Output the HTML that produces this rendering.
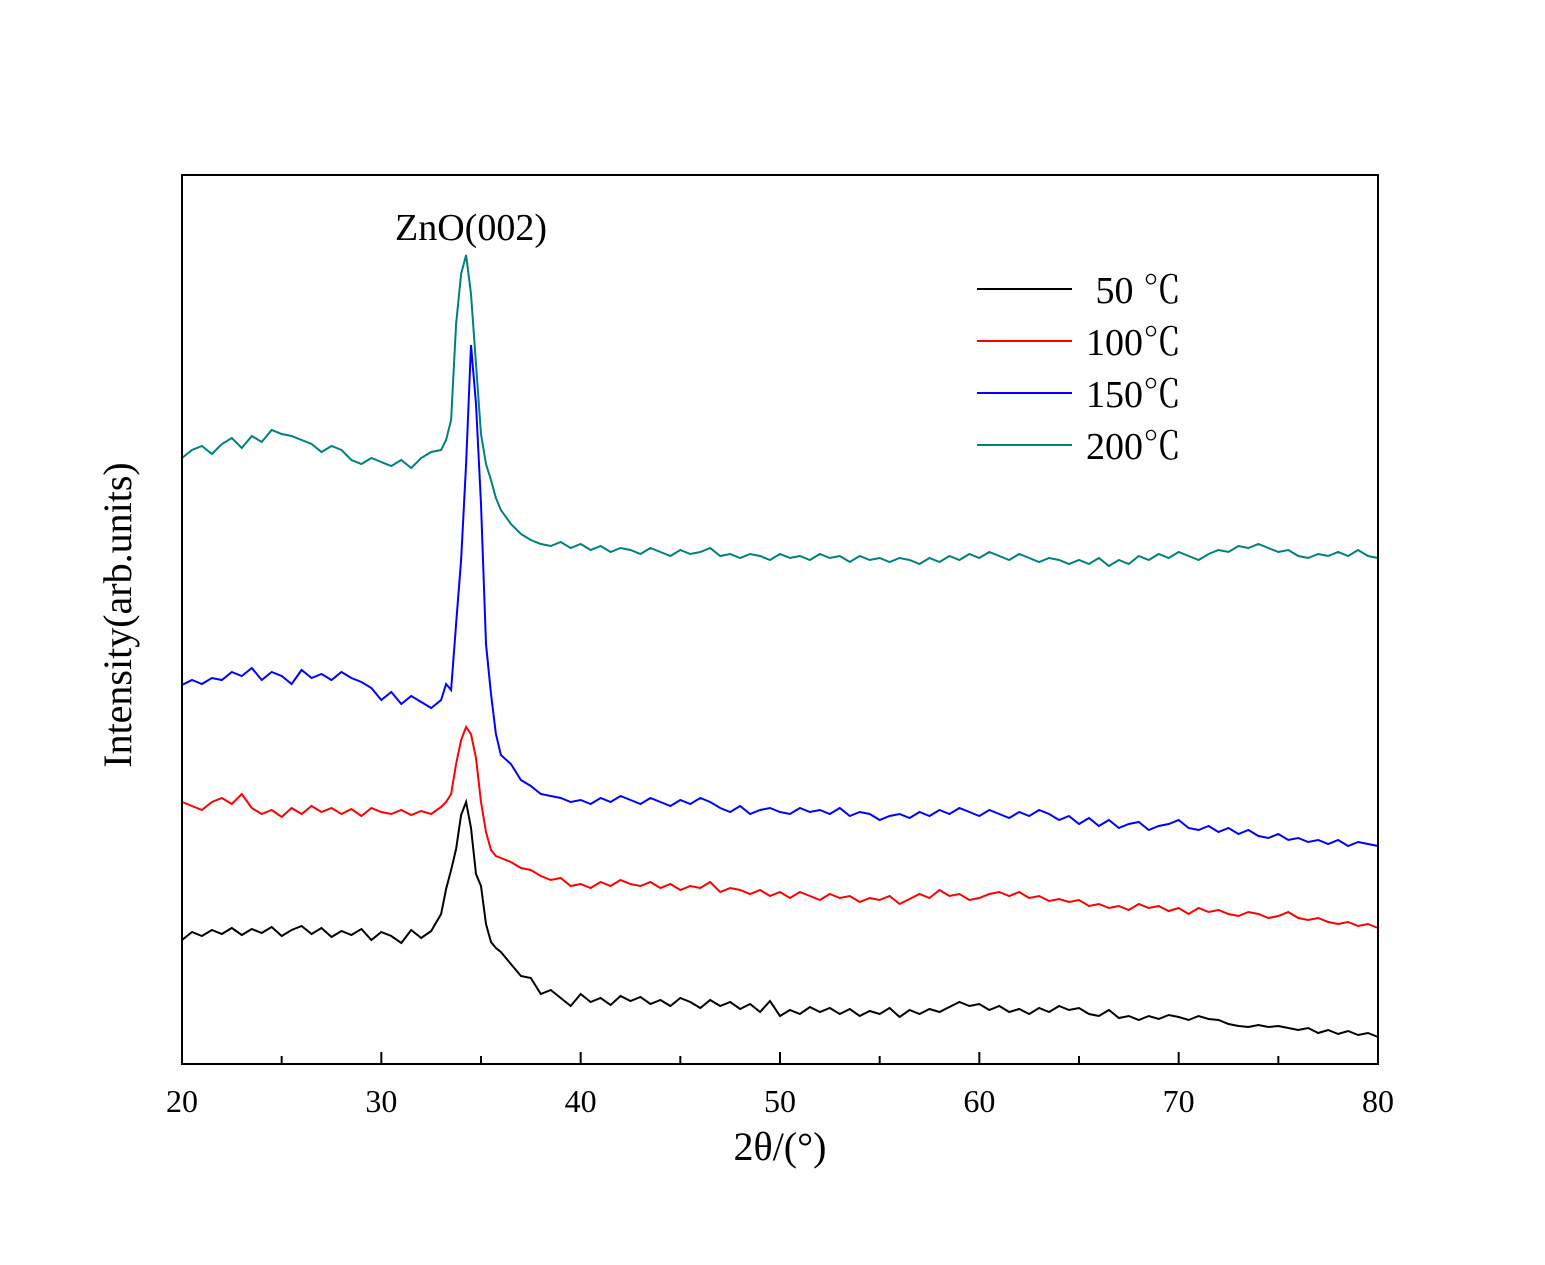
<!DOCTYPE html>
<html><head><meta charset="utf-8"><style>
html,body{margin:0;padding:0;background:#fff;}
svg text{font-family:"Liberation Serif","Noto Serif CJK SC",serif;fill:#000;}
</style></head><body>
<svg id="chart" width="1545" height="1260" xmlns="http://www.w3.org/2000/svg">
<rect x="0" y="0" width="1545" height="1260" fill="#fff"/>
<g id="series"></g>
<rect x="182" y="175" width="1196" height="889" fill="none" stroke="#000" stroke-width="2"/>
<g id="ticks"></g>
<text x="780" y="1160" font-size="40" text-anchor="middle">2θ/(°)</text>
<text transform="translate(131,615) rotate(-90)" font-size="40" text-anchor="middle">Intensity(arb.units)</text>
<text x="471" y="240" font-size="38" text-anchor="middle">ZnO(002)</text>
<g id="legend"></g>
</svg>
<script>
const xs=[20,20.5,21,21.5,22,22.5,23,23.5,24,24.5,25,25.5,26,26.5,27,27.5,28,28.5,29,29.5,30,30.5,31,31.5,32,32.5,33,
33.25,33.5,33.75,34,34.25,34.5,34.75,35,35.25,35.5,35.75,36,
36.5,37,37.5,38,38.5,39,39.5,40,40.5,41,41.5,42,42.5,43,43.5,44,44.5,45,45.5,46,46.5,47,47.5,48,48.5,49,49.5,50,50.5,51,51.5,52,52.5,53,53.5,54,54.5,55,55.5,56,56.5,57,57.5,58,58.5,59,59.5,60,60.5,61,61.5,62,62.5,63,63.5,64,64.5,65,65.5,66,66.5,67,67.5,68,68.5,69,69.5,70,70.5,71,71.5,72,72.5,73,73.5,74,74.5,75,75.5,76,76.5,77,77.5,78,78.5,79,79.5,80];
const s50=[124,132,128,134,130,136,129,135,131,137,128,134,138,130,136,127,133,129,135,124,132,128,121,134,126,133,150,
175,194,215,249,262,236,190,178,140,122,116,112,
100,88,86,70,74,66,58,70,62,66,59,68,63,67,60,64,58,66,62,56,64,58,62,55,60,52,63,48,54,50,57,52,56,50,55,48,53,50,56,47,54,50,55,52,57,62,58,60,54,58,52,55,50,56,52,58,54,56,50,48,54,46,48,44,48,45,49,47,44,48,45,44,40,38,37,39,37,38,36,34,36,31,34,30,33,29,31,27];
const s100=[262,258,254,262,266,260,270,256,250,254,247,256,250,258,252,256,250,255,248,256,252,250,254,249,253,250,257,
262,270,300,324,337,330,306,262,232,214,208,206,
202,196,194,188,184,186,178,180,176,182,178,184,180,178,182,176,180,174,178,176,182,172,176,174,170,174,168,172,166,172,168,164,170,166,168,162,166,164,168,160,165,170,166,174,168,170,164,166,170,172,168,172,166,168,163,165,162,164,158,160,156,158,154,160,156,158,153,156,150,156,152,154,150,148,152,150,146,148,152,146,144,146,142,140,142,138,140,136];
const s150=[379,384,380,386,384,392,388,396,384,392,388,380,394,386,390,384,392,386,382,376,364,372,360,368,362,356,364,
380,374,440,504,600,719,660,560,420,370,330,309,
300,284,278,270,268,266,262,264,260,266,262,268,264,260,266,262,258,264,260,266,262,256,252,258,250,254,256,252,250,256,252,254,250,256,248,252,250,244,248,250,246,252,248,254,250,256,252,248,254,250,246,252,248,254,250,244,248,240,246,238,244,236,240,242,234,238,240,244,236,234,238,232,236,230,234,228,226,230,224,226,222,224,220,224,218,222,220,218];
const s200=[606,614,618,610,620,626,616,628,622,634,630,628,624,620,612,618,614,604,600,606,602,598,604,596,606,612,614,
624,644,740,790,809,770,700,630,600,584,566,554,
540,530,524,520,518,522,516,520,514,518,512,516,514,510,516,512,508,514,510,512,516,508,510,506,510,508,504,510,506,508,504,510,506,508,502,508,504,506,502,506,504,500,506,502,508,504,510,506,512,508,504,510,506,502,506,504,500,504,500,506,498,504,500,508,504,510,506,512,508,504,510,514,512,518,516,520,516,512,514,508,506,510,508,512,508,514,508,506];
const seriesNames=["50 ℃","100℃","150℃","200℃"];
const seriesColors=["#000000","#ff0000","#0000ff","#007f7f"];
const tickVals=[20,25,30,35,40,45,50,55,60,65,70,75,80];
const tickLabels=["20","30","40","50","60","70","80"];
const NS="http://www.w3.org/2000/svg";
const X=v=>182+(v-20)*(1196/60);
const Y=v=>1064-v;
const all=[s50,s100,s150,s200];
const sg=document.getElementById('series');
all.forEach((s,i)=>{
  const n=Math.min(s.length,xs.length);
  let d='';
  for(let k=0;k<n;k++){d+=(k?'L':'M')+X(xs[k]).toFixed(1)+','+Y(s[k]).toFixed(1);}
  const p=document.createElementNS(NS,'path');
  p.setAttribute('d',d);p.setAttribute('fill','none');p.setAttribute('stroke',seriesColors[i]);p.setAttribute('stroke-width','2');
  
  
  sg.appendChild(p);
});
const tg=document.getElementById('ticks');
tickVals.forEach(v=>{
  const l=document.createElementNS(NS,'line');
  l.setAttribute('x1',X(v));l.setAttribute('x2',X(v));l.setAttribute('y1',1064);l.setAttribute('y2',v%10===0?1052:1056);
  l.setAttribute('stroke','#000');l.setAttribute('stroke-width','2');
  
  
  tg.appendChild(l);
});
tickLabels.forEach(t=>{
  const e=document.createElementNS(NS,'text');
  e.setAttribute('x',X(+t));e.setAttribute('y',1112);e.setAttribute('font-size','32');e.setAttribute('text-anchor','middle');
  e.textContent=t;
  
  
  tg.appendChild(e);
});
const lg=document.getElementById('legend');
seriesNames.forEach((nm,i)=>{
  const y=289+i*52;
  const l=document.createElementNS(NS,'line');
  l.setAttribute('x1',977);l.setAttribute('x2',1072);l.setAttribute('y1',y);l.setAttribute('y2',y);
  l.setAttribute('stroke',seriesColors[i]);l.setAttribute('stroke-width','2');
  
  
  lg.appendChild(l);
  const t=document.createElementNS(NS,'text');
  t.setAttribute('x',1181);t.setAttribute('y',y+14);t.setAttribute('font-size','38');t.setAttribute('text-anchor','end');
  t.textContent=nm;
  
  
  lg.appendChild(t);
});
</script>
</body></html>
